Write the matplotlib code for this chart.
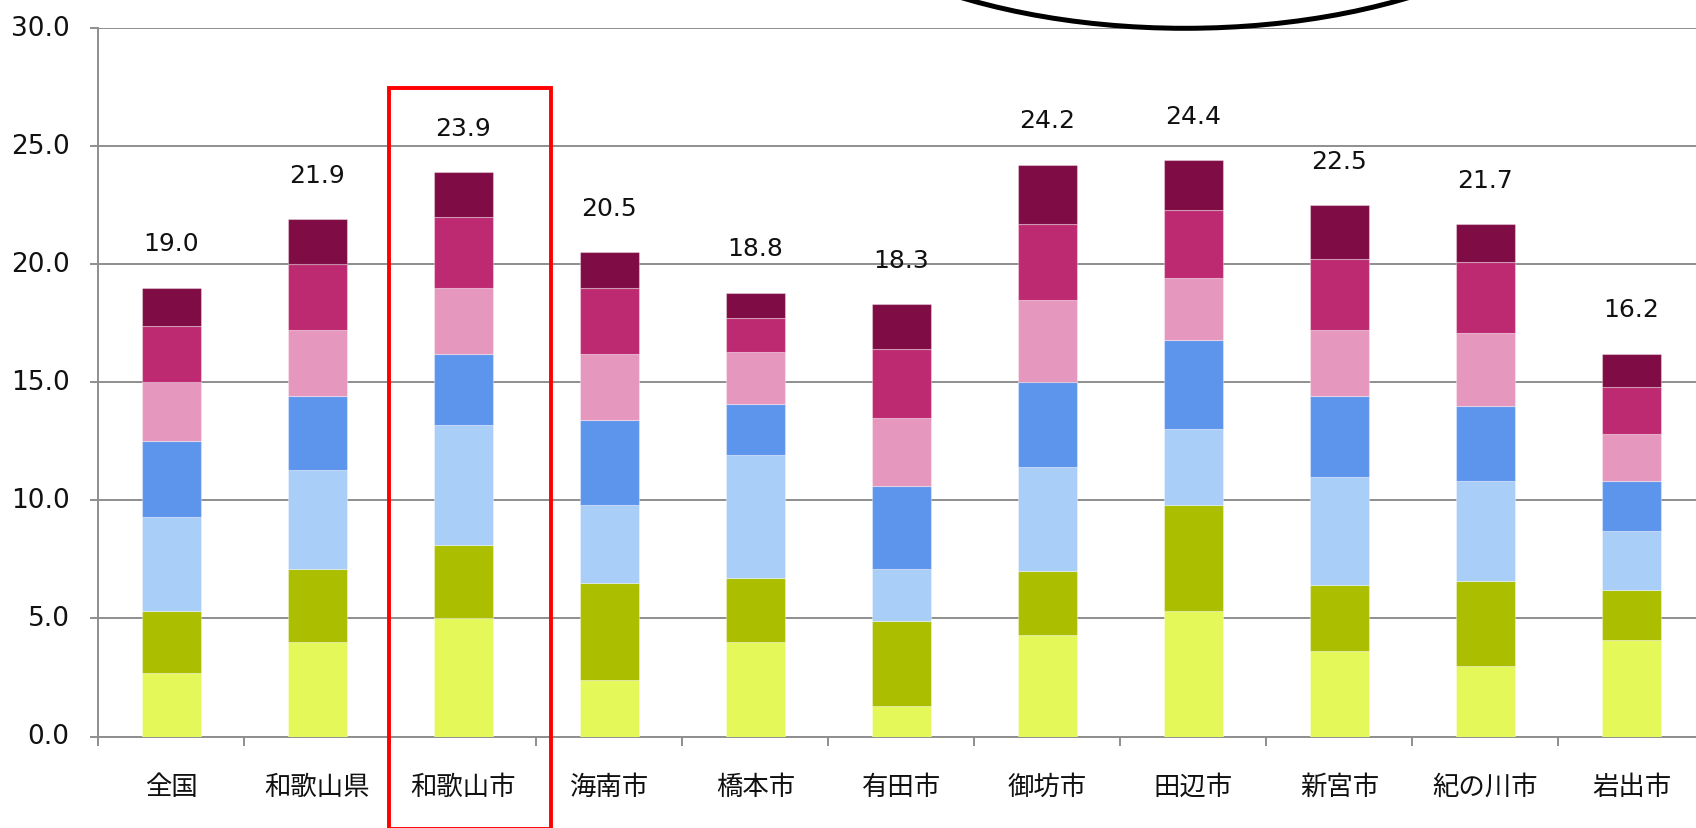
import matplotlib
matplotlib.use("Agg")
import matplotlib.pyplot as plt
from matplotlib.patches import Ellipse, Rectangle
from matplotlib.ticker import FixedLocator, FormatStrFormatter
import numpy as np

plt.rcParams['font.family'] = ['DejaVu Sans', 'Noto Sans CJK JP']

categories = ["全国", "和歌山県", "和歌山市", "海南市", "橋本市", "有田市",
              "御坊市", "田辺市", "新宮市", "紀の川市", "岩出市"]

# stacked components, bottom to top
layer_1 = [2.7, 4.0, 5.0, 2.4, 4.0, 1.3, 4.3, 5.3, 3.6, 3.0, 4.1]
layer_2 = [2.6, 3.1, 3.1, 4.1, 2.7, 3.6, 2.7, 4.5, 2.8, 3.6, 2.1]
layer_3 = [4.0, 4.2, 5.1, 3.3, 5.2, 2.2, 4.4, 3.2, 4.6, 4.2, 2.5]
layer_4 = [3.2, 3.1, 3.0, 3.6, 2.2, 3.5, 3.6, 3.8, 3.4, 3.2, 2.1]
layer_5 = [2.5, 2.8, 2.8, 2.8, 2.2, 2.9, 3.5, 2.6, 2.8, 3.1, 2.0]
layer_6 = [2.4, 2.8, 3.0, 2.8, 1.4, 2.9, 3.2, 2.9, 3.0, 3.0, 2.0]
layer_7 = [1.6, 1.9, 1.9, 1.5, 1.1, 1.9, 2.5, 2.1, 2.3, 1.6, 1.4]

layers = [layer_1, layer_2, layer_3, layer_4, layer_5, layer_6, layer_7]
colors = ["#E4F85A", "#ABBE00", "#A9CEF7", "#5D94EC",
          "#E697BD", "#BE2A72", "#800C45"]

y_ticks = [0, 5, 10, 15, 20, 25, 30]
highlight = "和歌山市"

W, H = 1696, 829
fig = plt.figure(figsize=(W / 100, H / 100), dpi=100)
fig.patch.set_facecolor("white")

# plot area runs past the right edge of the figure
ax_left, ax_bottom = 98.4 / W, (H - 737.5) / H
ax_width, ax_height = 11 * 146.0 / W, (737.5 - 29.0) / H
ax = fig.add_axes([ax_left, ax_bottom, ax_width, ax_height])

x = np.arange(len(categories))
bottom = np.zeros(len(categories))
for vals, col in zip(layers, colors):
    ax.bar(x, vals, width=0.40, bottom=bottom, color=col,
           edgecolor=(1, 1, 1, 0.35), linewidth=0.8, zorder=3)
    bottom = bottom + np.array(vals)

totals = bottom
for xi, t in zip(x, totals):
    ax.annotate(f"{t:.1f}", xy=(xi, t), xytext=(0, 27), textcoords="offset points",
                ha="center", va="baseline", fontsize=18, color="#111111",
                family="DejaVu Sans", zorder=5)

grid_col = "#8E8E8E"
ax.set_xlim(-0.5, len(categories) - 0.5)
ax.set_ylim(0, 30)
ax.yaxis.set_major_locator(FixedLocator(y_ticks))
ax.yaxis.set_major_formatter(FormatStrFormatter("%.1f"))
ax.yaxis.grid(True, color=grid_col, linewidth=1.4, zorder=1)
ax.set_axisbelow(True)

ax.set_xticks(x)
ax.set_xticklabels(categories, family=["Noto Sans CJK JP", "DejaVu Sans"], fontsize=19)
ax.set_xticks(np.arange(len(categories) + 1) - 0.5, minor=True)
ax.tick_params(axis="x", which="major", length=0, pad=26, colors="#111111")
ax.tick_params(axis="x", which="minor", length=6.5, width=1.4, color=grid_col, direction="out")
ax.tick_params(axis="y", which="major", length=5.8, width=1.4, color=grid_col,
               labelsize=19, pad=15, labelcolor="#111111")
for lbl in ax.get_yticklabels():
    lbl.set_verticalalignment("center")

for side in ("top", "right"):
    ax.spines[side].set_visible(False)
for side in ("left", "bottom"):
    ax.spines[side].set_color(grid_col)
    ax.spines[side].set_linewidth(1.4)

# red frame around the highlighted city
frame_left_px, frame_right_px = 389.0, 550.5
frame = Rectangle((frame_left_px / W, (H - 829.5) / H),
                  (frame_right_px - frame_left_px) / W, (829.5 - 88.5) / H,
                  transform=fig.transFigure, fill=False, edgecolor="#FF0000",
                  linewidth=2.8, zorder=10)
fig.patches.append(frame)

# lower rim of the oval callout at the top
callout = Ellipse((1185.0 / W, (H + 170.7) / H), 2 * 420.0 / W, 2 * 200.0 / H,
                  transform=fig.transFigure, fill=False, edgecolor="black",
                  linewidth=3.6, zorder=10)
fig.patches.append(callout)

fig.savefig("out.png", dpi=100, facecolor="white")
